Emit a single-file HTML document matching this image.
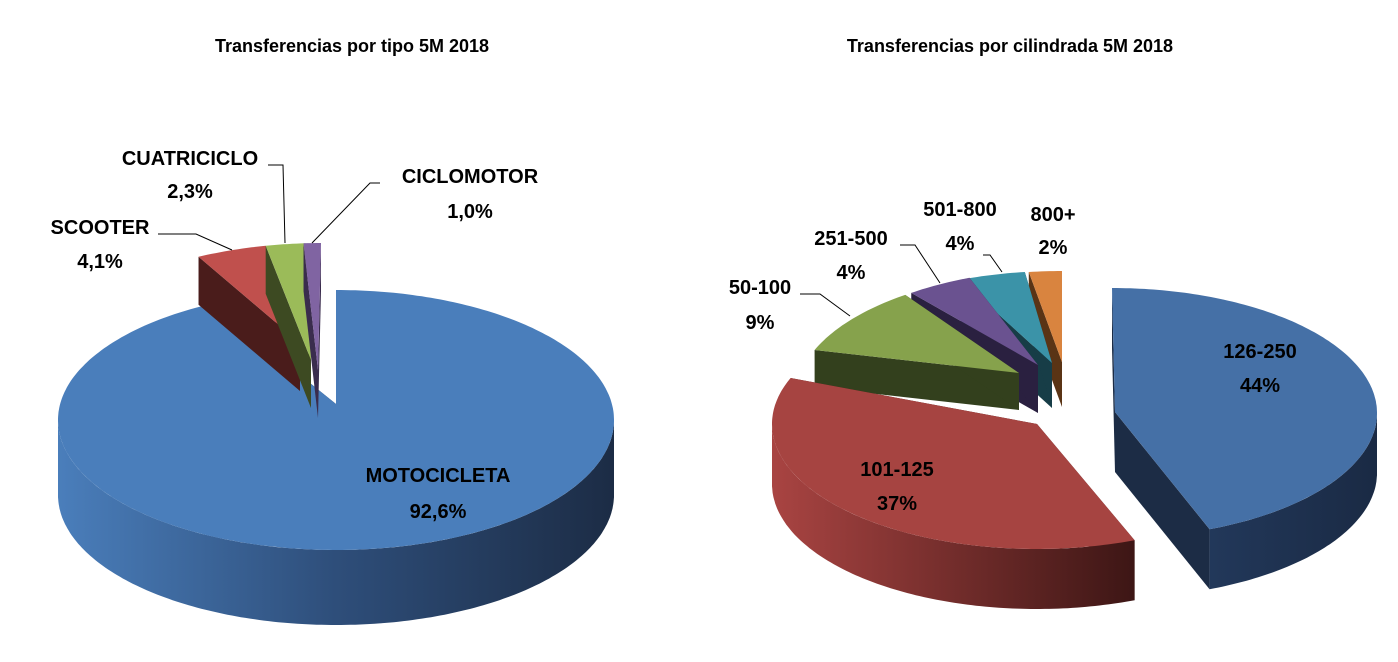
<!DOCTYPE html>
<html><head><meta charset="utf-8">
<style>
html,body{margin:0;padding:0;background:#fff;}
svg{display:block;}
text{font-family:"Liberation Sans",sans-serif;font-weight:bold;fill:#000;}
</style></head>
<body>
<svg id="s" width="1398" height="662" xmlns="http://www.w3.org/2000/svg">
<defs>
<linearGradient id="gb" x1="0" x2="1" y1="0" y2="0"><stop offset="0" stop-color="#4a7ebb"/><stop offset="0.5" stop-color="#2e4e7a"/><stop offset="1" stop-color="#1c2c45"/></linearGradient>
<linearGradient id="gr" x1="0" x2="1" y1="0" y2="0"><stop offset="0" stop-color="#a94442"/><stop offset="1" stop-color="#3d1615"/></linearGradient>
<linearGradient id="gb2" x1="0" x2="1" y1="0" y2="0"><stop offset="0" stop-color="#22385a"/><stop offset="1" stop-color="#1a2a44"/></linearGradient>
</defs>
<g id="g"></g>
<text x="352" y="52" font-size="18" text-anchor="middle">Transferencias por tipo 5M 2018</text>
<text x="1010" y="52" font-size="18" text-anchor="middle">Transferencias por cilindrada 5M 2018</text>
<g font-size="20" text-anchor="middle">
<text x="438" y="482">MOTOCICLETA</text><text x="438" y="518">92,6%</text>
<text x="100" y="234">SCOOTER</text><text x="100" y="268">4,1%</text>
<text x="190" y="165">CUATRICICLO</text><text x="190" y="198">2,3%</text>
<text x="470" y="183">CICLOMOTOR</text><text x="470" y="218">1,0%</text>
<text x="1260" y="358">126-250</text><text x="1260" y="392">44%</text>
<text x="897" y="476">101-125</text><text x="897" y="510">37%</text>
<text x="760" y="294">50-100</text><text x="760" y="329">9%</text>
<text x="851" y="245">251-500</text><text x="851" y="279">4%</text>
<text x="960" y="216">501-800</text><text x="960" y="250">4%</text>
<text x="1053" y="221">800+</text><text x="1053" y="254">2%</text>
</g>
<g stroke="#000" stroke-width="1" fill="none">
<polyline points="158,234 196,234 232,250"/>
<polyline points="268,165 283,165 285,243"/>
<polyline points="380,183 370,183 312,243"/>
<polyline points="800,294 820,294 850,316"/>
<polyline points="900,245 915,245 940,283"/>
<polyline points="983,255 990,255 1002,272"/>
</g>
</svg>
<script>
var g=document.getElementById('g'),NS="http://www.w3.org/2000/svg";
function P(cx,cy,rx,ry,t){t=t*Math.PI/180;return [cx+rx*Math.sin(t),cy-ry*Math.cos(t)];}
function add(d,f){var p=document.createElementNS(NS,'path');p.setAttribute('d',d);p.setAttribute('fill',f);g.appendChild(p);}
function arcPts(cx,cy,rx,ry,a,b,dy){var s=[],n=Math.max(2,Math.ceil(Math.abs(b-a)));for(var i=0;i<=n;i++){var q=P(cx,cy+dy,rx,ry,a+(b-a)*i/n);s.push(q[0].toFixed(1)+','+q[1].toFixed(1));}return s;}
function wedge(ax,ay,cx,cy,rx,ry,d,t0,t1,top,side,outer){
 [t0,t1].forEach(function(t){var q=P(cx,cy,rx,ry,t);add('M'+ax+','+ay+'L'+q[0]+','+q[1]+'L'+q[0]+','+(q[1]+d)+'L'+ax+','+(ay+d)+'Z',side);});
 var a=Math.max(t0,90),b=Math.min(t1,270);
 if(b>a){var u=arcPts(cx,cy,rx,ry,a,b,0),l=arcPts(cx,cy,rx,ry,b,a,d);add('M'+u.join('L')+'L'+l.join('L')+'Z',outer||side);}
 var t=arcPts(cx,cy,rx,ry,t0,t1,0);add('M'+ax+','+ay+'L'+t.join('L')+'Z',top);
}
// left chart
wedge(336,404,336,420,278,130,75,0,333.4,'#4a7ebb','#1e2f4d','url(#gb)');
wedge(300,343,323,373,278,130,48,333.4,348.1,'#c0504d','#4a1c1b');
wedge(311,360,323,373,278,130,48,348.1,356.4,'#9bbb59','#3d4a22');
wedge(318,370,321,373,278,130,48,356.4,360,'#8064a2','#3a2c4d');
// right chart
wedge(1062,362,1062,396,265,125,45,352.8,360,'#d9843f','#5a3415');
wedge(1052,363,1058,396,265,125,45,338.4,352.8,'#3b93a8','#173d47');
wedge(1038,365,1067,394,265,125,48,324,338.4,'#6a5290','#2a2040');
wedge(1019,373,1061,396,265,125,37,291.6,324,'#86a24c','#33401d');
wedge(1115,412,1112,413,265,125,60,0,158.4,'#4570a6','#1c2c45','url(#gb2)');
wedge(1037,424,1037,424,265,125,60,158.4,291.6,'#a64441','#3d1615','url(#gr)');
</script>
</body></html>
